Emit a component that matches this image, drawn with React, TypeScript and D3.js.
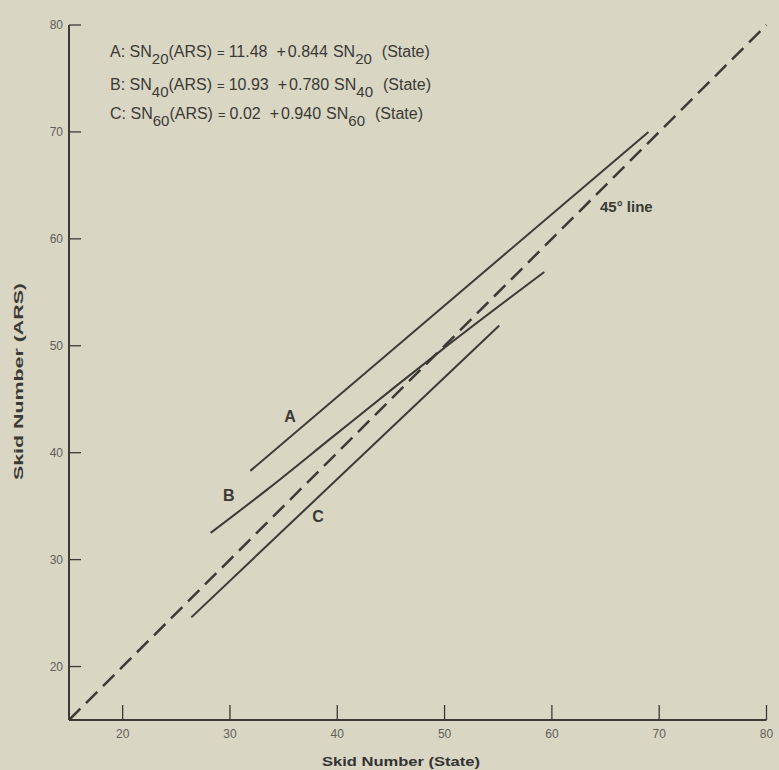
import React from "react";
import * as d3 from "d3";

const W = 779;
const H = 770;

const xTicks = [20, 30, 40, 50, 60, 70, 80];
const yTicks = [20, 30, 40, 50, 60, 70, 80];

const lineA: [number, number][] = [
  [31.9, 38.3],
  [69.0, 70.0],
];
const lineB: [number, number][] = [
  [28.2, 32.5],
  [33.4, 36.5],
  [39.6, 41.5],
  [45.5, 46.25],
  [49.6, 49.5],
  [59.3, 56.9],
];
const lineC: [number, number][] = [
  [26.4, 24.6],
  [55.1, 51.9],
];
const line45: [number, number][] = [
  [15, 15],
  [80, 80],
];

const eqLabels = ["A", "B", "C"];
const eqSubs = ["20", "40", "60"];
const eqIntercepts = ["11.48", "10.93", "0.02"];
const eqSlopes = ["0.844", "0.780", "0.940"];

const curveLabels = [
  { text: "A", x: 35.6, y: 43.4 },
  { text: "B", x: 29.9, y: 36.0 },
  { text: "C", x: 38.2, y: 34.0 },
];

export default function App() {
  const x = d3.scaleLinear().domain([15, 80]).range([69, 766.5]);
  const y = d3.scaleLinear().domain([15, 80]).range([720, 25]);
  const line = d3
    .line<[number, number]>()
    .x((d) => x(d[0]))
    .y((d) => y(d[1]));
  const curve = d3
    .line<[number, number]>()
    .x((d) => x(d[0]))
    .y((d) => y(d[1]))
    .curve(d3.curveMonotoneX);

  const ink = "#3b3a35";
  const font = "'Liberation Sans', Arial, Helvetica, sans-serif";
  const eqBaselines = [57, 90, 119];
  const subDy = 7;

  return (
    <svg
      width={W}
      height={H}
      style={{ position: "absolute", left: 0, top: 0, background: "#d9d6c4" }}
      fontFamily={font}
    >
      <rect x={0} y={0} width={W} height={H} fill="#d9d6c4" />
      {/* axes */}
      <line x1={x(15)} x2={x(15)} y1={y(80)} y2={y(15)} stroke={ink} strokeWidth={2} />
      <line x1={x(15)} x2={x(80)} y1={y(15)} y2={y(15)} stroke={ink} strokeWidth={2} />
      {yTicks.map((t) => (
        <g key={"y" + t}>
          <line x1={x(15)} x2={x(15) + 12} y1={y(t)} y2={y(t)} stroke={ink} strokeWidth={1.3} />
          <text
            x={x(15) - 6}
            y={y(t)}
            dy="0.35em"
            textAnchor="end"
            fontSize={12}
            fill="#5f5f5a"
          >
            {t}
          </text>
        </g>
      ))}
      {xTicks.map((t) => (
        <g key={"x" + t}>
          <line x1={x(t)} x2={x(t)} y1={y(15)} y2={y(15) - 15} stroke={ink} strokeWidth={1.3} />
          <text x={x(t)} y={y(15) + 18} textAnchor="middle" fontSize={12} fill="#5f5f5a">
            {t}
          </text>
        </g>
      ))}
      {/* axis titles */}
      <text
        x={322}
        y={766}
        fontSize={13.5}
        fontWeight="bold"
        fill="#333"
        textLength={158}
        lengthAdjust="spacingAndGlyphs"
      >
        Skid Number (State)
      </text>
      <text
        transform={`translate(23, 480) rotate(-90)`}
        fontSize={12}
        fontWeight="bold"
        fill="#3a3a35"
        textLength={197}
        lengthAdjust="spacingAndGlyphs"
      >
        Skid Number (ARS)
      </text>
      {/* lines */}
      <path
        d={line(line45) || ""}
        fill="none"
        stroke={ink}
        strokeWidth={2.5}
        strokeDasharray="16 8"
      />
      <path d={line(lineA) || ""} fill="none" stroke={ink} strokeWidth={2} />
      <path d={curve(lineB) || ""} fill="none" stroke={ink} strokeWidth={2} />
      <path d={line(lineC) || ""} fill="none" stroke={ink} strokeWidth={2} />
      {/* curve labels */}
      {curveLabels.map((l) => (
        <text
          key={l.text}
          x={x(l.x)}
          y={y(l.y)}
          dy="0.35em"
          textAnchor="middle"
          fontSize={16}
          fontWeight="bold"
          fill="#3a3a35"
        >
          {l.text}
        </text>
      ))}
      <text x={600} y={207} dy="0.35em" fontSize={15} fontWeight="bold" fill="#3a3a35">
        45° line
      </text>
      {/* equations */}
      {eqLabels.map((lab, i) => {
        const b = eqBaselines[i];
        return (
          <text key={lab} x={110} y={b} fontSize={16} fill="#3a3a35">
            <tspan>{lab}: SN</tspan>
            <tspan dy={subDy} fontSize={15}>{eqSubs[i]}</tspan>
            <tspan dy={-subDy}>(ARS)</tspan>
            <tspan dx={5} fontSize={13}>=</tspan>
            <tspan dx={4}>{eqIntercepts[i]}</tspan>
            <tspan dx={9}>+</tspan>
            <tspan dx={2}>{eqSlopes[i]}</tspan>
            <tspan dx={5}>SN</tspan>
            <tspan dy={subDy} fontSize={15}>{eqSubs[i]}</tspan>
            <tspan dy={-subDy} dx={10}>(State)</tspan>
          </text>
        );
      })}
    </svg>
  );
}
